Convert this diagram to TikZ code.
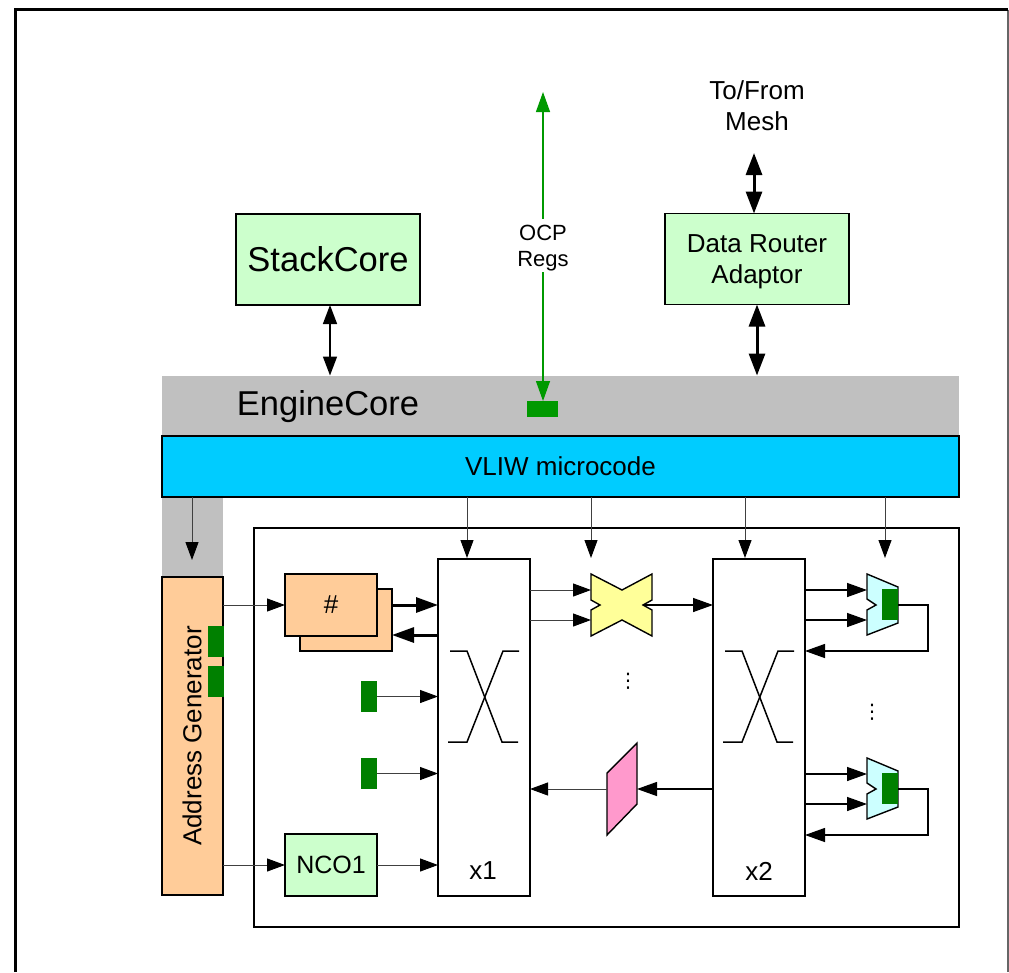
\documentclass[tikz,border=0pt]{standalone}
\usepackage{fontspec}
\setmainfont{Liberation Sans}
\newfontfamily\dotsfont{DejaVu Sans}
\usetikzlibrary{arrows.meta,calc}
\definecolor{boxgreen}{HTML}{CCFFCC}
\definecolor{boxorange}{HTML}{FFCC99}
\definecolor{boxblue}{HTML}{00CCFF}
\definecolor{boxgray}{HTML}{C0C0C0}
\definecolor{muxcyan}{HTML}{CCFFFF}
\definecolor{xyellow}{HTML}{FFFF99}
\definecolor{fmtpink}{HTML}{FF99CC}
\definecolor{regA}{HTML}{008000}
\definecolor{regB}{HTML}{009900}
\tikzset{
  x=1pt,y=-1pt,
  every node/.style={inner sep=0pt,outer sep=0pt},
  lab/.style={font=\fontsize{26}{31}\selectfont,align=center},
  biglab/.style={font=\fontsize{34.5}{40}\selectfont},
  smalllab/.style={font=\fontsize{22}{25.5}\selectfont,align=center},
  box/.style={draw=black,line width=1.3pt,lab},
  flat/.style={fill=boxgray,draw=none},
  shapeline/.style={draw=black,line width=1.4pt,line join=miter},
  reg/.style={fill=regA,draw=none,minimum width=16pt,minimum height=31pt},
  conn/.style={line width=1pt,black!75,-{Triangle[length=18pt,width=13pt,fill=black,color=black]}},
  connm/.style={line width=1.4pt,black,-{Triangle[length=20pt,width=14pt]}},
  connb/.style={line width=3pt,black,-{Triangle[length=22pt,width=15pt]}},
  dbl/.style={line width=1.5pt,black,{Triangle[length=19pt,width=14pt]}-{Triangle[length=19pt,width=14pt]}},
  dblb/.style={line width=3pt,black,{Triangle[length=22pt,width=16pt]}-{Triangle[length=22pt,width=16pt]}},
  xbarline/.style={line width=1.5pt,black,line join=miter},
  vdotsmark/.style={font=\dotsfont\fontsize{20}{24}\selectfont},
}
\begin{document}
\begin{tikzpicture}
\useasboundingbox (0,0) rectangle (1009,972);
% outer frame
\coordinate (fa) at (15.5,972);
\coordinate (fb) at (15.5,9.5);
\coordinate (fc) at (1008,9.5);
\coordinate (fd) at (1008,972);
\draw[line width=1.2pt,black!60] (fc) -- (fd);
\draw[line width=2.2pt,black] (fa) -- (fb) -- (fc);

% flat gray regions and main bars
\node[flat,minimum width=797pt,minimum height=61pt] (engine) at (560.5,406) {};
\node[flat,minimum width=61pt,minimum height=80pt] (gap) at (192.5,537) {};
\node[biglab] (enginelabel) at (328,407) {EngineCore};
\node[box,fill=boxblue,minimum width=797pt,minimum height=61pt] (vliw) at (560.5,466.5) {VLIW microcode};

% top blocks
\node[box,fill=boxgreen,biglab,minimum width=184pt,minimum height=91pt] (stack) at (328,259.5) {StackCore};
\node[box,fill=boxgreen,minimum width=184pt,minimum height=91pt] (router) at (757,259) {};
\node[lab] (routerlabel) at (757,262) {Data Router\\Adaptor};
\node[lab] (mesh) at (757,105.5) {To/From\\Mesh};

% inner region
\node[draw=black,line width=1.2pt,minimum width=705pt,minimum height=399pt] (inner) at (606.5,727.5) {};
\node[box,fill=boxorange,minimum width=61pt,minimum height=318pt] (agen) at (192.5,736) {};
\node[lab,rotate=90] (agenlabel) at (192,736) {Address Generator};

% register stack
\node[box,fill=boxorange,minimum width=92pt,minimum height=62pt] (memb) at (346,620) {};
\node[box,fill=boxorange,minimum width=92pt,minimum height=62pt] (memf) at (331,605) {\#};

% switch columns
\node[box,fill=white,minimum width=92pt,minimum height=337pt] (xa) at (484,727.5) {};
\node[box,fill=white,minimum width=92pt,minimum height=337pt] (xb) at (759,727.5) {};
\node[lab] (xalabel) at (483,871) {x1};
\node[lab] (xblabel) at (759,871) {x2};
\draw[xbarline] (450,651) -- (467,651) -- (502,742) -- (518,742);
\draw[xbarline] (448,742) -- (467,742) -- (503,651) -- (519,651);
\draw[xbarline] (725,651) -- (742,651) -- (777,742) -- (793,742);
\draw[xbarline] (723,742) -- (742,742) -- (778,651) -- (794,651);

% NCO
\node[box,fill=boxgreen,minimum width=92pt,minimum height=62pt,font=\fontsize{25}{30}\selectfont] (nco) at (331,865) {NCO1};

% crossbar shape
\coordinate (ci1) at (591,590);
\coordinate (ci2) at (591,620);
\coordinate (co) at (643,605);
\coordinate (ct) at (591,558);
\draw[shapeline,fill=xyellow] (591,574) -- (622,590) -- (652,574) -- (652,600) -- (co) -- (652,610) -- (652,636) -- (622,620) -- (591,636) -- (591,610) -- (600,605) -- (591,600) -- cycle;

% format shape
\coordinate (pl) at (607,789);
\coordinate (pr) at (637,789);
\draw[shapeline,fill=fmtpink] (607,773) -- (637,743) -- (637,804) -- (607,835) -- cycle;

% mux shapes
\coordinate (ma1) at (867,590);
\coordinate (ma2) at (867,620);
\coordinate (maa) at (898,605);
\coordinate (mat) at (885,558);
\draw[shapeline,fill=muxcyan] (867,574) -- (898,587) -- (898,623) -- (867,635) -- (867,610) -- (876,605) -- (867,599) -- cycle;
\node[reg] (rma) at (890,604.5) {};
\coordinate (mb1) at (867,774);
\coordinate (mb2) at (867,804);
\coordinate (mba) at (898,789);
\draw[shapeline,fill=muxcyan] (867,758) -- (898,771) -- (898,807) -- (867,819) -- (867,794) -- (876,789) -- (867,783) -- cycle;
\node[reg] (rmb) at (890,788.5) {};

% registers
\node[reg] (ra1) at (215.5,641.5) {};
\node[reg] (ra2) at (215.5,681.5) {};
\node[reg] (rc1) at (369,696.5) {};
\node[reg] (rc2) at (369,773.5) {};
\node[fill=regB,minimum width=31pt,minimum height=16pt] (rocp) at (542.5,409) {};

% dots
\node[vdotsmark] (d1) at (628,681) {⋮};
\node[vdotsmark] (d2) at (872,712) {⋮};

% vertical double arrows
\coordinate (sx) at (330,340);
\draw[dbl] (stack.south -| sx) -- (engine.north -| sx);
\draw[dblb] (router.south) -- (engine.north -| router);
\coordinate (mtip) at (754,153);
\draw[dblb] (router.north -| mtip) -- (mtip);
\coordinate (otip) at (543,92);
\draw[line width=1.3pt,regB,{Triangle[length=20pt,width=14pt]}-{Triangle[length=20pt,width=14pt]}] (otip) -- (rocp.north -| otip);
\node[fill=white,minimum width=56pt,minimum height=53pt] (ocpgap) at (543,245.5) {};
\node[smalllab] (ocp) at (543,248) {OCP\\Regs};

% control arrows from microcode
\coordinate (xat) at (467,558);
\coordinate (xbt) at (745,558);
\coordinate (agt) at (192,560);
\draw[conn] (vliw.south -| agt) -- (agt);
\draw[conn] (vliw.south -| xat) -- (xat);
\draw[conn] (vliw.south -| ct) -- (ct);
\draw[conn] (vliw.south -| xbt) -- (xbt);
\draw[conn] (vliw.south -| mat) -- (mat);

% data path
\draw[conn] (agen.east |- memf.west) -- (memf.west);
\draw[conn] (agen.east |- nco.west) -- (nco.west);
\draw[connb] (memb.east |- memf.west) -- (xa.west |- memf.west);
\coordinate (mr) at (392,635);
\draw[connb] (xa.west |- mr) -- (mr);
\draw[conn] (rc1.east) -- (xa.west |- rc1.east);
\draw[conn] (rc2.east) -- (xa.west |- rc2.east);
\draw[conn] (nco.east) -- (xa.west |- nco.east);
\draw[conn] (xa.east |- ci1) -- (ci1);
\draw[conn] (xa.east |- ci2) -- (ci2);
\draw[connm] (co) -- (xb.west |- co);
\draw[connm] (xb.west |- pr) -- (pr);
\draw[conn] (pl) -- (xa.east |- pl);
\draw[connm] (xb.east |- ma1) -- (ma1);
\draw[connm] (xb.east |- ma2) -- (ma2);
\draw[connm] (xb.east |- mb1) -- (mb1);
\draw[connm] (xb.east |- mb2) -- (mb2);
\coordinate (fba) at (928,651);
\coordinate (fbb) at (928,835);
\draw[connm] (rma.east |- maa) -- (maa -| fba) -- (fba) -- (xb.east |- fba);
\draw[connm] (rmb.east |- mba) -- (mba -| fbb) -- (fbb) -- (xb.east |- fbb);
\end{tikzpicture}
\end{document}
